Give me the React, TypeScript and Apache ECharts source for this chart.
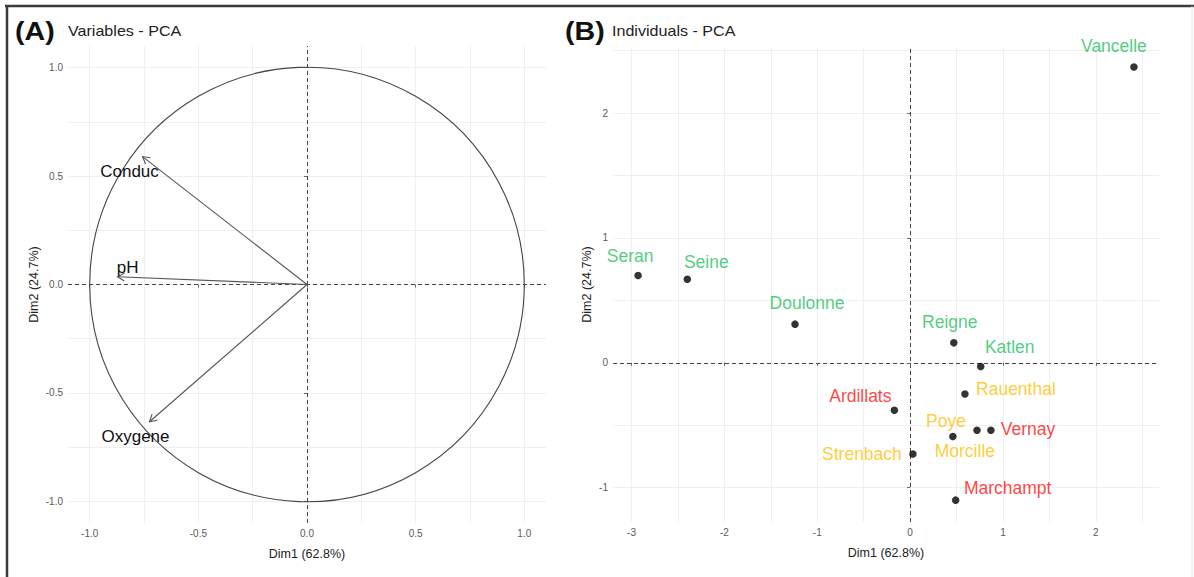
import React, { useEffect, useRef } from "react";
import * as echarts from "echarts";

// ---- Panel A: variables (correlation circle) ----
const varNames = ["Conduc", "pH", "Oxygene"];
const varDim1 = [-0.757, -0.872, -0.725];
const varDim2 = [0.59, 0.036, -0.633];

// ---- Panel B: individuals ----
const indNames = [
  "Vancelle", "Seran", "Seine", "Doulonne", "Reigne", "Katlen", "Rauenthal",
  "Ardillats", "Poye", "Vernay", "Morcille", "Strenbach", "Marchampt",
];
const indDim1 = [2.41, -2.93, -2.4, -1.24, 0.47, 0.76, 0.59, -0.17, 0.72, 0.87, 0.46, 0.03, 0.49];
const indDim2 = [2.37, 0.7, 0.67, 0.31, 0.16, -0.03, -0.25, -0.38, -0.54, -0.54, -0.59, -0.73, -1.1];
const indGroup = ["G", "G", "G", "G", "G", "G", "Y", "R", "Y", "R", "Y", "Y", "R"];

// ---- tick labels ----
const aTicks = [-1, -0.5, 0, 0.5, 1];
const bXTicks = [-3, -2, -1, 0, 1, 2];
const bYTicks = [-1, 0, 1, 2];
const aGrid = [-1, -0.75, -0.5, -0.25, 0, 0.25, 0.5, 0.75, 1];
const bXGrid = [-3, -2.5, -2, -1.5, -1, -0.5, 0, 0.5, 1, 1.5, 2, 2.5];
const bYGrid = [-1, -0.5, 0, 0.5, 1, 1.5, 2, 2.5];

const groupColors: Record<string, string> = { G: "#1fbf62", Y: "#ffbf00", R: "#ff1010" };

// label offsets (px) for repelled labels
const indLabelOffset: Record<string, number[]> = {
  Vancelle: [-20, -21], Seran: [-8, -19], Seine: [19, -17], Doulonne: [12, -21],
  Reigne: [-4, -21], Katlen: [29, -20], Rauenthal: [51, -5], Ardillats: [-34, -14],
  Poye: [-31, -9], Vernay: [37, -1], Morcille: [12, 15], Strenbach: [-51, 0],
  Marchampt: [52, -12],
};
const varLabelOffset: Record<string, number[]> = {
  Conduc: [-13, 15], pH: [10, -9], Oxygene: [-14, 15],
};

const FONT = "'Liberation Sans', Arial, sans-serif";
const GRID_COLOR = "#efefef";
const ZERO_STYLE = { color: "#444", width: 1, type: [4, 3] as any };

function gridMarks(xs: number[], ys: number[]) {
  const data: any[] = [];
  xs.forEach((v) => data.push({ xAxis: v, lineStyle: { color: GRID_COLOR, width: 1, type: "solid" } }));
  ys.forEach((v) => data.push({ yAxis: v, lineStyle: { color: GRID_COLOR, width: 1, type: "solid" } }));
  return data;
}

function axisCommon(ticks: number[], fmt: (v: number) => string) {
  return {
    type: "value",
    splitLine: { show: false },
    axisLine: { show: false },
    axisTick: { show: true, customValues: ticks, length: 3, lineStyle: { color: "#666" } },
    axisLabel: { customValues: ticks, formatter: fmt, color: "#5a5a5a", fontSize: 10, fontFamily: FONT, margin: 5 },
    nameLocation: "middle",
    nameTextStyle: { color: "#222", fontSize: 12.5, fontFamily: FONT },
  };
}

export default function App() {
  const ref = useRef<HTMLDivElement>(null);
  useEffect(() => {
    document.body.style.margin = "0";
    const chart = echarts.init(ref.current!, undefined, { renderer: "svg" });
    const f1 = (v: number) => v.toFixed(1);
    const f0 = (v: number) => String(Math.round(v));

    const option: any = {
      animation: false,
      backgroundColor: "#ffffff",
      textStyle: { fontFamily: FONT },
      grid: [
        { left: 68, right: 648, top: 46, bottom: 54 },
        { left: 613, right: 35, top: 47, bottom: 55 },
      ],
      xAxis: [
        { ...axisCommon(aTicks, f1), gridIndex: 0, min: -1.1, max: 1.1, name: "Dim1 (62.8%)", nameGap: 24 },
        { ...axisCommon(bXTicks, f0), gridIndex: 1, min: -3.2, max: 2.68, name: "Dim1 (62.8%)", nameGap: 24 },
      ],
      yAxis: [
        { ...axisCommon(aTicks, f1), gridIndex: 0, min: -1.1, max: 1.1, name: "Dim2 (24.7%)", nameGap: 28 },
        { ...axisCommon(bYTicks, f0), gridIndex: 1, min: -1.275, max: 2.53, name: "Dim2 (24.7%)", nameGap: 20 },
      ],
      graphic: [
        { type: "line", shape: { x1: 5, y1: 6, x2: 1194, y2: 6 }, style: { stroke: "#3a3a3a", lineWidth: 2.5 } },
        { type: "line", shape: { x1: 7, y1: 6, x2: 7, y2: 577 }, style: { stroke: "#3a3a3a", lineWidth: 2.5 } },
        { type: "line", shape: { x1: 1192, y1: 6, x2: 1192, y2: 577 }, style: { stroke: "#e4e4e4", lineWidth: 1 } },
        { type: "text", x: 15, y: 31, scaleX: 1.1, style: { text: "(A)", font: `bold 26px ${FONT}`, fill: "#111", verticalAlign: "middle" } },
        { type: "text", x: 68, y: 31, scaleX: 1.15, style: { text: "Variables - PCA", font: `14px ${FONT}`, fill: "#222", verticalAlign: "middle" } },
        { type: "text", x: 565, y: 31, scaleX: 1.1, style: { text: "(B)", font: `bold 26px ${FONT}`, fill: "#111", verticalAlign: "middle" } },
        { type: "text", x: 612, y: 31, scaleX: 1.15, style: { text: "Individuals - PCA", font: `14px ${FONT}`, fill: "#222", verticalAlign: "middle" } },
      ],
      series: [
        // Panel A grid & zero lines
        {
          type: "line", xAxisIndex: 0, yAxisIndex: 0, data: [], silent: true, z: 0,
          markLine: {
            z: 0, silent: true, symbol: "none", label: { show: false }, emphasis: { disabled: true },
            data: [...gridMarks(aGrid, aGrid), { xAxis: 0, lineStyle: ZERO_STYLE }, { yAxis: 0, lineStyle: ZERO_STYLE }],
          },
        },
        // Panel B grid & zero lines
        {
          type: "line", xAxisIndex: 1, yAxisIndex: 1, data: [], silent: true, z: 0,
          markLine: {
            z: 0, silent: true, symbol: "none", label: { show: false }, emphasis: { disabled: true },
            data: [...gridMarks(bXGrid, bYGrid), { xAxis: 0, lineStyle: ZERO_STYLE }, { yAxis: 0, lineStyle: ZERO_STYLE }],
          },
        },
        // unit circle
        {
          type: "custom", xAxisIndex: 0, yAxisIndex: 0, silent: true, clip: false, z: 3,
          data: [[0, 0, 1]],
          renderItem: (params: any, api: any) => {
            const c = api.coord([api.value(0), api.value(1)]);
            const r = api.size([api.value(2), api.value(2)])[0];
            return { type: "circle", shape: { cx: c[0], cy: c[1], r }, style: { fill: "none", stroke: "#444", lineWidth: 1.1 } };
          },
        },
        // variable arrows
        {
          type: "custom", xAxisIndex: 0, yAxisIndex: 0, silent: true, clip: false, z: 4,
          data: varNames.map((n, i) => [varDim1[i], varDim2[i]]),
          renderItem: (params: any, api: any) => {
            const o = api.coord([0, 0]);
            const t = api.coord([api.value(0), api.value(1)]);
            const dx = o[0] - t[0], dy = o[1] - t[1];
            const L = Math.sqrt(dx * dx + dy * dy);
            const ux = dx / L, uy = dy / L;
            const len = 8, a = Math.PI / 6;
            const rot = (ang: number) => [t[0] + len * (ux * Math.cos(ang) - uy * Math.sin(ang)), t[1] + len * (ux * Math.sin(ang) + uy * Math.cos(ang))];
            const name = varNames[params.dataIndex];
            const off = varLabelOffset[name];
            return {
              type: "group",
              children: [
                { type: "line", shape: { x1: o[0], y1: o[1], x2: t[0], y2: t[1] }, style: { stroke: "#555", lineWidth: 1.1 } },
                { type: "polyline", shape: { points: [rot(a), t, rot(-a)] }, style: { stroke: "#555", lineWidth: 1.1, fill: "none" } },
                { type: "text", x: t[0] + off[0], y: t[1] + off[1], style: { text: name, font: `17px ${FONT}`, fill: "#111", align: "center", verticalAlign: "middle" } },
              ],
            };
          },
        },
        // individuals
        {
          type: "scatter", xAxisIndex: 1, yAxisIndex: 1, symbol: "circle", symbolSize: 7.5, z: 10,
          itemStyle: { color: "#000" }, silent: true,
          data: indNames.map((n, i) => ({
            name: n,
            value: [indDim1[i], indDim2[i]],
            label: {
              show: true, formatter: n, position: "inside", offset: indLabelOffset[n],
              color: groupColors[indGroup[i]], fontSize: 17.5, fontFamily: FONT, align: "center", verticalAlign: "middle",
              textBorderWidth: 0, textBorderColor: "transparent", textShadowBlur: 0,
            },
          })),
        },
      ],
    };
    chart.setOption(option);
    return () => chart.dispose();
  }, []);
  return <div ref={ref} style={{ position: "fixed", left: 0, top: 0, width: 1194, height: 577 }} />;
}
